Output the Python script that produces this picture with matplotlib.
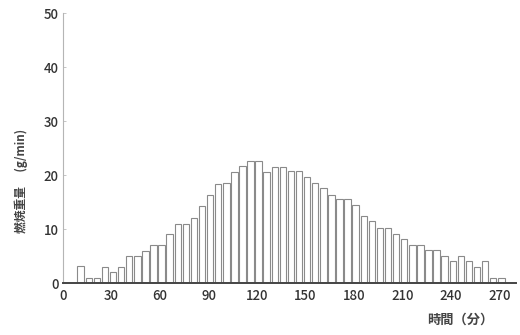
import matplotlib
matplotlib.use("Agg")
import matplotlib.pyplot as plt

plt.rcParams['font.family'] = ['Noto Sans CJK JP', 'DejaVu Sans']

# time (min), start of each 5-min interval
times = list(range(10, 275, 5))
# burning weight (g/min)
weights = [3.1, 1.0, 1.0, 3.0, 2.0, 3.0, 5.0, 5.0, 6.0, 7.0,
           7.0, 9.0, 11.0, 11.0, 12.0, 14.3, 16.3, 18.3, 18.5, 20.5,
           21.7, 22.6, 22.6, 20.5, 21.5, 21.5, 20.7, 20.7, 19.7, 18.6,
           17.6, 16.4, 15.5, 15.5, 14.5, 12.4, 11.5, 10.2, 10.2, 9.1,
           8.1, 7.1, 7.1, 6.1, 6.1, 5.1, 4.0, 5.1, 4.0, 3.0,
           4.0, 1.0, 1.0]
xticks = [0, 30, 60, 90, 120, 150, 180, 210, 240, 270]
yticks = [0, 10, 20, 30, 40, 50]

fig = plt.figure(figsize=(5.2, 3.35), dpi=100)
ax = fig.add_axes([0.121, 0.155, 0.871, 0.806])

ax.bar([t + 1 for t in times], weights, width=4.0, color="white",
       edgecolor="#8a8a8a", linewidth=0.8)

ax.set_xlim(0, 280)
ax.set_ylim(0, 50)
ax.set_xticks(xticks)
ax.set_yticks(yticks)
ax.set_xticklabels([str(x) for x in xticks], fontsize=9.5, color="#333333",
                   fontweight="medium")
ax.set_yticklabels([str(y) for y in yticks], fontsize=9.5, color="#333333",
                   fontweight="medium")
ax.tick_params(axis="x", length=0, pad=4)
ax.tick_params(axis="y", direction="in", length=2, width=0.6, color="#bbbbbb", pad=3)

for side in ["top", "right"]:
    ax.spines[side].set_visible(False)
ax.spines["left"].set_color("#b5b5b5")
ax.spines["left"].set_linewidth(0.8)
ax.spines["bottom"].set_color("#444444")
ax.spines["bottom"].set_linewidth(1.4)

fig.text(0.04, 0.46, "燃焼重量　 (g/min)", rotation=90, fontsize=8.5,
         color="#444444", ha="center", va="center", fontweight="bold")
fig.text(0.885, 0.045, "時間（分）", fontsize=9.5, color="#444444",
         ha="center", va="center", fontweight="bold")

fig.savefig("out.png", dpi=100)
